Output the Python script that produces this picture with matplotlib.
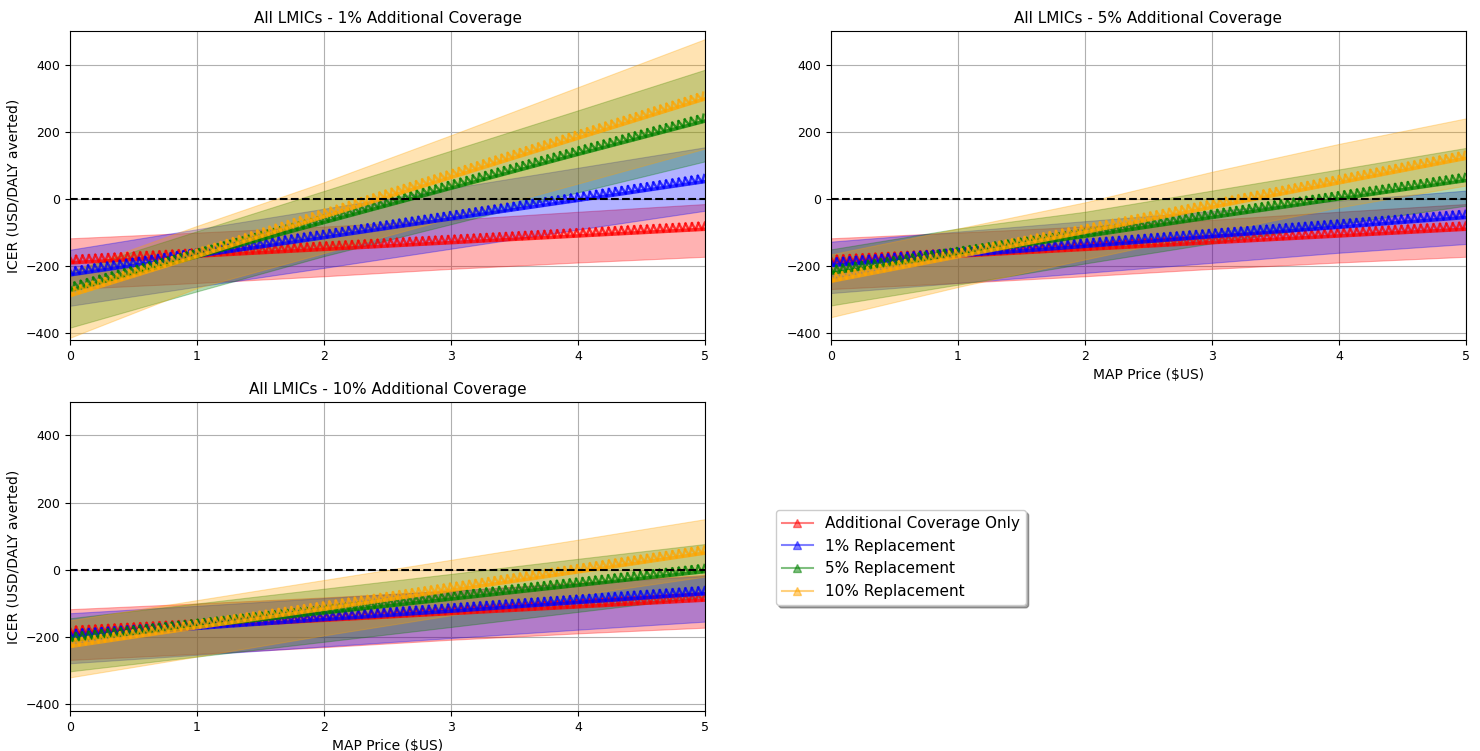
import matplotlib
matplotlib.use("Agg")
import matplotlib.pyplot as plt
from matplotlib import patheffects as pe
from matplotlib.lines import Line2D

# MAP price ($US) at which values were read
price = [0, 1, 2, 3, 4, 5]

names = ["Additional Coverage Only", "1% Replacement", "5% Replacement", "10% Replacement"]
colors = ["red", "blue", "green", "orange"]
titles = ["All LMICs - 1% Additional Coverage",
          "All LMICs - 5% Additional Coverage",
          "All LMICs - 10% Additional Coverage"]

# additional coverage only (same in every panel)
add_mean = [-190, -170, -150, -130, -110, -90]
add_lo = [-268, -250, -230, -208, -189, -172]
add_hi = [-117, -100, -82, -62, -38, -15]

# 1% additional coverage
c1_r1_mean = [-226, -170, -115, -59, -4, 52]
c1_r1_lo = [-318, -261, -205, -148, -91, -35]
c1_r1_hi = [-151, -90, -29, 32, 93, 154]
c1_r5_mean = [-273, -172, -70, 32, 133, 232]
c1_r5_lo = [-383, -275, -170, -75, 20, 112]
c1_r5_hi = [-216, -96, 24, 144, 264, 385]
c1_r10_mean = [-288, -171, -53, 64, 181, 298]
c1_r10_lo = [-413, -265, -161, -57, 46, 150]
c1_r10_hi = [-215, -80, 50, 190, 333, 476]

# 5% additional coverage
c5_r1_mean = [-198, -169, -141, -112, -84, -55]
c5_r1_lo = [-280, -250, -220, -190, -160, -134]
c5_r1_hi = [-127, -97, -66, -36, -5, 25]
c5_r5_mean = [-221, -166, -111, -55, 0, 55]
c5_r5_lo = [-317, -255, -192, -132, -75, -20]
c5_r5_hi = [-150, -88, -38, 25, 88, 152]
c5_r10_mean = [-245, -172, -99, -25, 48, 121]
c5_r10_lo = [-352, -262, -180, -100, -25, 40]
c5_r10_hi = [-165, -88, -10, 81, 164, 240]

# 10% additional coverage
c10_r1_mean = [-200, -174, -148, -123, -97, -71]
c10_r1_lo = [-278, -253, -228, -203, -178, -154]
c10_r1_hi = [-129, -107, -84, -62, -40, -18]
c10_r5_mean = [-210, -169, -128, -87, -46, -5]
c10_r5_lo = [-302, -258, -214, -170, -125, -80]
c10_r5_hi = [-144, -100, -56, -12, 33, 77]
c10_r10_mean = [-228, -172, -117, -61, -6, 50]
c10_r10_lo = [-320, -258, -195, -135, -75, -20]
c10_r10_hi = [-150, -90, -30, 30, 90, 151]

panels = [
    [(add_mean, add_lo, add_hi), (c1_r1_mean, c1_r1_lo, c1_r1_hi),
     (c1_r5_mean, c1_r5_lo, c1_r5_hi), (c1_r10_mean, c1_r10_lo, c1_r10_hi)],
    [(add_mean, add_lo, add_hi), (c5_r1_mean, c5_r1_lo, c5_r1_hi),
     (c5_r5_mean, c5_r5_lo, c5_r5_hi), (c5_r10_mean, c5_r10_lo, c5_r10_hi)],
    [(add_mean, add_lo, add_hi), (c10_r1_mean, c10_r1_lo, c10_r1_hi),
     (c10_r5_mean, c10_r5_lo, c10_r5_hi), (c10_r10_mean, c10_r10_lo, c10_r10_hi)],
]

# sawtooth of triangle markers along each mean line
saw = [pe.TickedStroke(spacing=4.6, angle=64, length=1.15, linewidth=1.7),
       pe.TickedStroke(spacing=4.6, angle=116, length=1.15, linewidth=1.7),
       pe.Normal()]

fig, axs = plt.subplots(2, 2, figsize=(14.8, 7.51), dpi=100)
fig.subplots_adjust(left=0.0473, right=0.9905, top=0.9587, bottom=0.0533,
                    wspace=0.198, hspace=0.2)
axes = [axs[0, 0], axs[0, 1], axs[1, 0]]
axs[1, 1].axis("off")

for ax, title, series in zip(axes, titles, panels):
    for (mean, lo, hi), c in zip(series, colors):
        ax.fill_between(price, lo, hi, color=c, alpha=0.3, linewidth=0.8)
    for (mean, lo, hi), c in zip(series, colors):
        ax.plot(price, mean, color=c, linewidth=2.6, alpha=0.75, path_effects=saw)
    ax.axhline(0, color="black", linestyle="--", linewidth=1.5)
    ax.set_xlim(0, 5)
    ax.set_ylim(-420, 500)
    ax.set_yticks([-400, -200, 0, 200, 400])
    ax.grid(True)
    ax.set_axisbelow(True)
    ax.tick_params(labelsize=9)
    ax.set_title(title, fontsize=11)

axes[0].set_ylabel("ICER (USD/DALY averted)", fontsize=10)
axes[2].set_ylabel("ICER (USD/DALY averted)", fontsize=10)
axes[1].set_xlabel("MAP Price ($US)", fontsize=10)
axes[2].set_xlabel("MAP Price ($US)", fontsize=10)

handles = [Line2D([], [], color=c, marker="^", alpha=0.5, label=n)
           for n, c in zip(names, colors)]
fig.legend(handles=handles, loc="upper left", bbox_to_anchor=(0.5243, 0.321),
           borderaxespad=0, fontsize=11, shadow=True, framealpha=1)

fig.savefig("out.png", dpi=100)
